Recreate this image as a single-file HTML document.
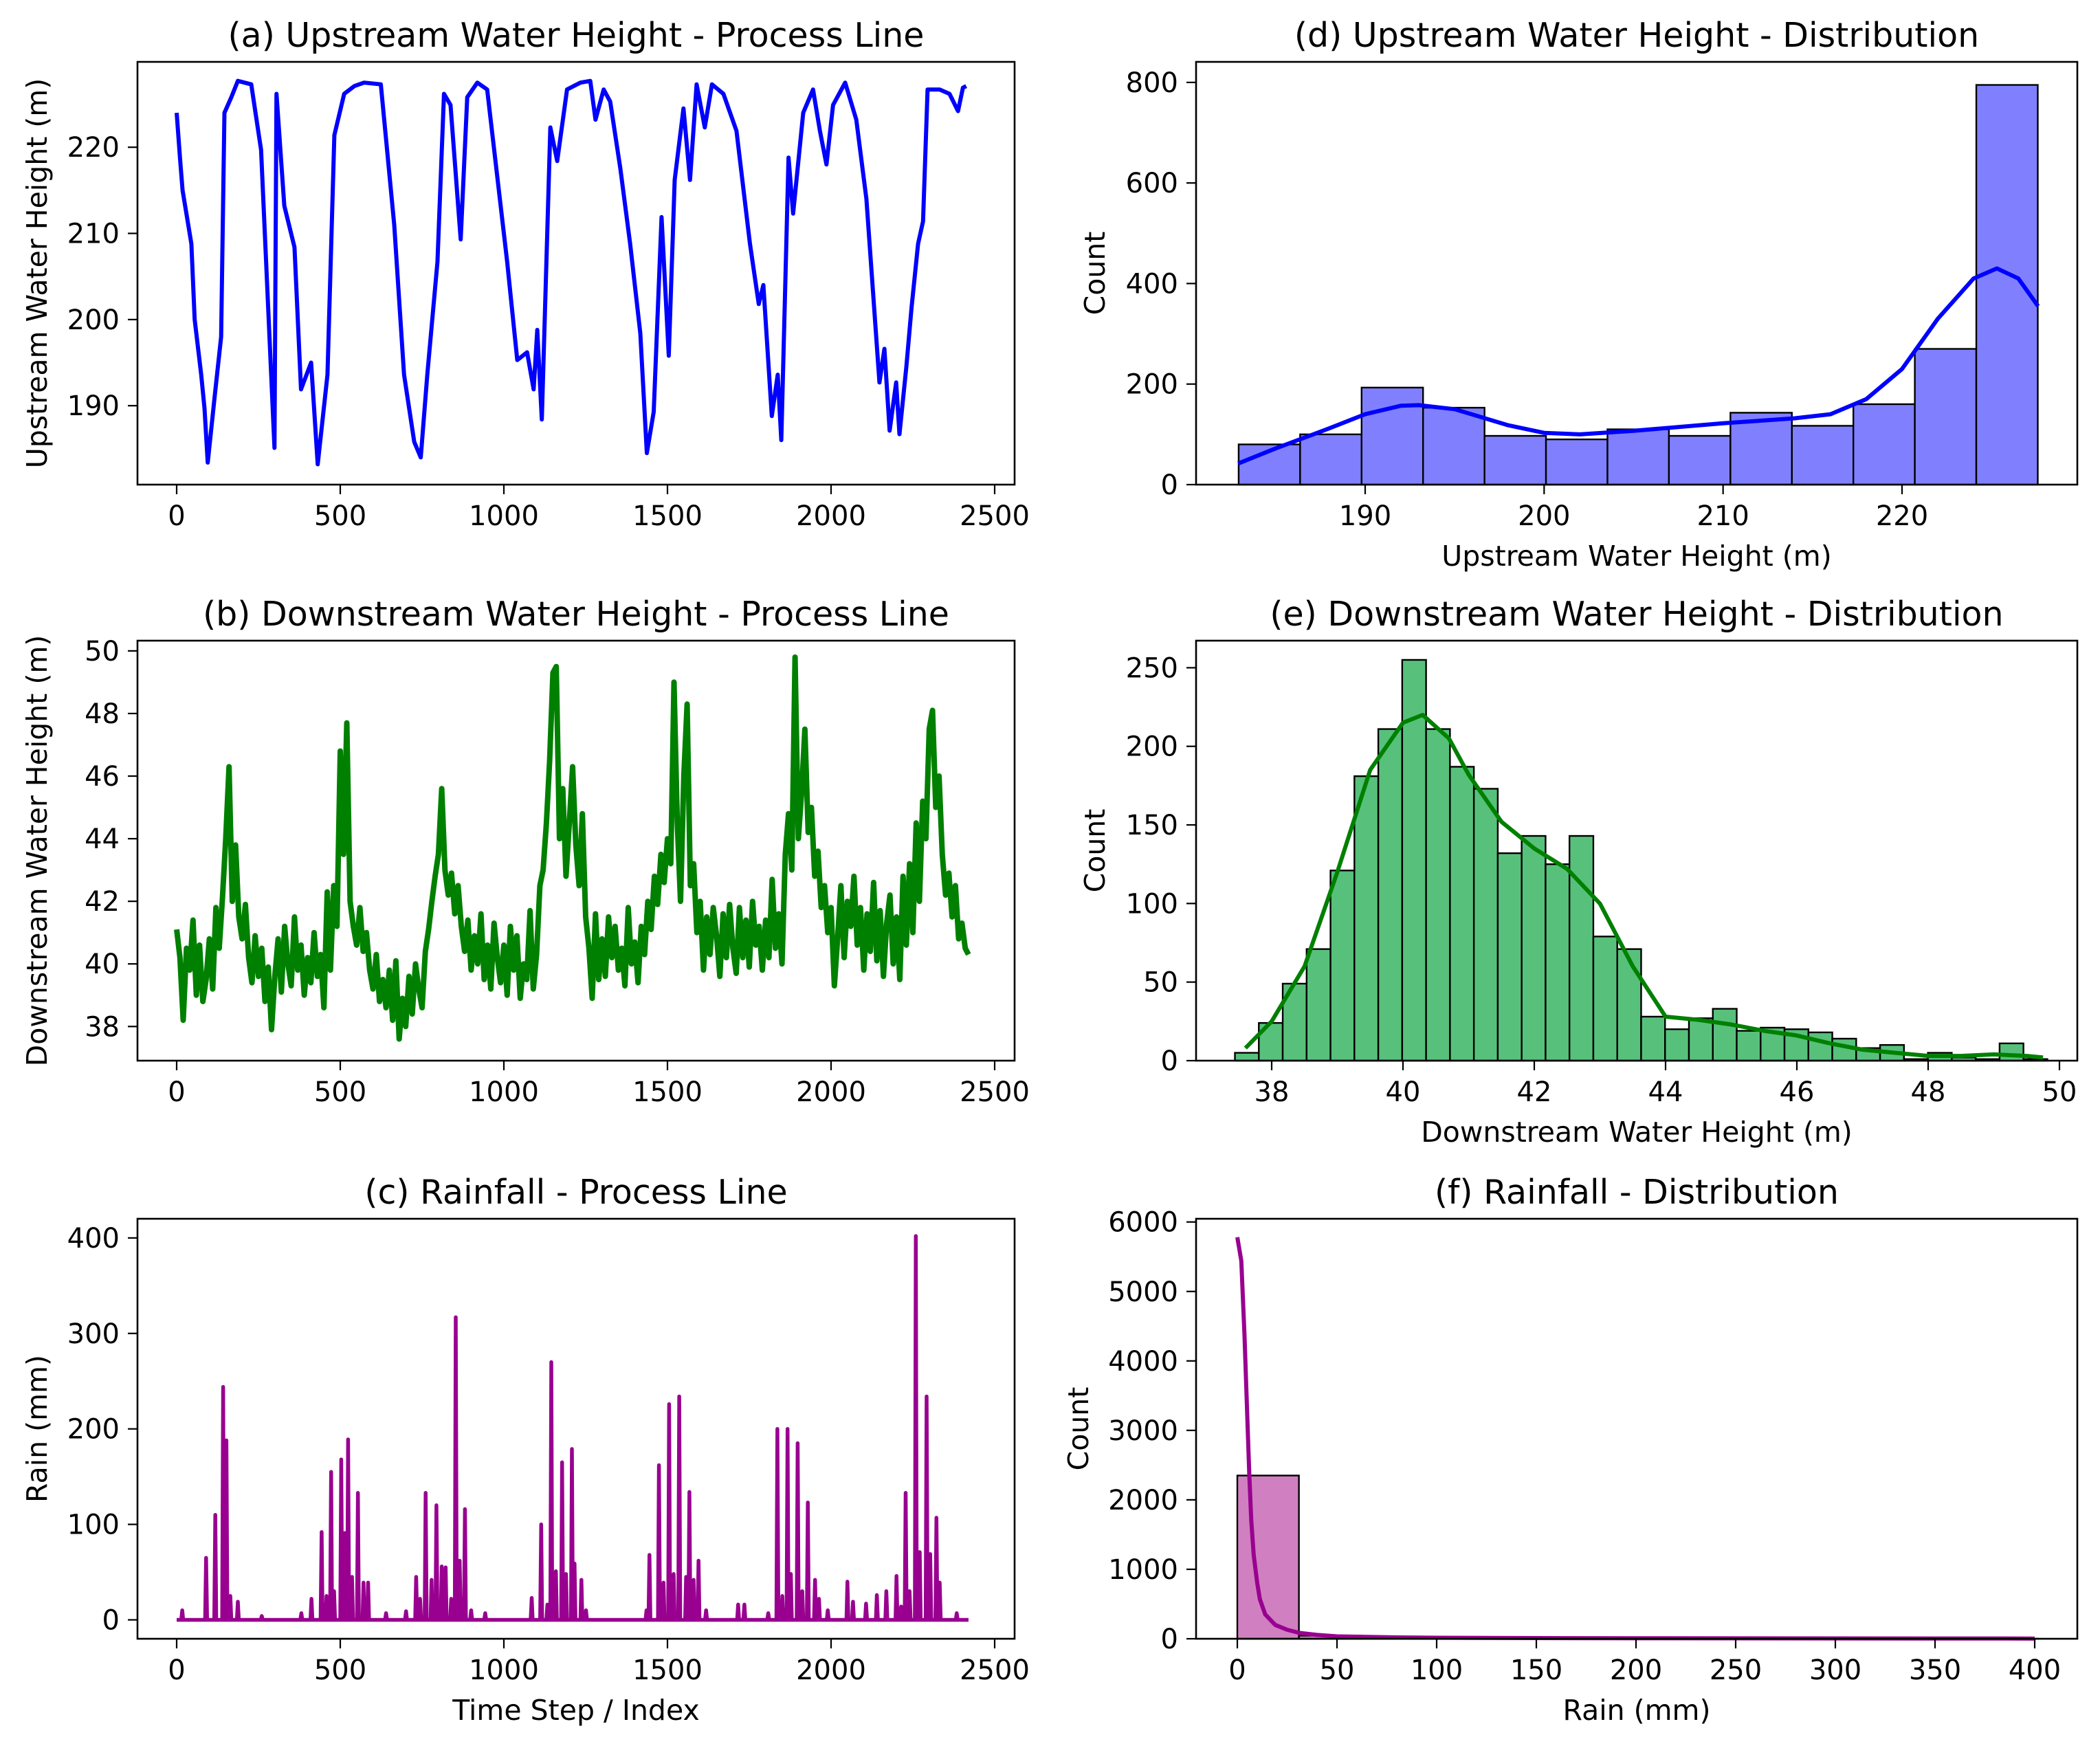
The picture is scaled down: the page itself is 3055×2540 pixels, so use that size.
<!DOCTYPE html>
<html><head><meta charset="utf-8"><style>
html,body{margin:0;padding:0;background:#fff;}
svg{display:block;font-family:"DejaVu Sans","Liberation Sans",sans-serif;}
</style></head><body>
<svg id="fig" xmlns="http://www.w3.org/2000/svg" width="3055" height="2540" viewBox="0 0 3055 2540">
<rect x="0" y="0" width="3055" height="2540" fill="#fff"/>
</svg>
<script>
// ---------- DATA ----------
const upT = [0,10,18,45,55,75,85,95,116,136,146,167,187,228,258,299,305,329,360,380,411,431,461,482,512,543,573,624,665,695,726,746,766,797,817,837,868,888,919,949,1010,1041,1071,1091,1102,1116,1142,1163,1193,1234,1264,1280,1305,1325,1356,1386,1417,1437,1458,1482,1504,1522,1549,1569,1589,1614,1636,1671,1711,1752,1779,1793,1819,1837,1848,1870,1884,1915,1945,1966,1986,2006,2043,2077,2108,2148,2163,2179,2199,2209,2230,2246,2266,2281,2295,2332,2362,2388,2403,2413];
const upV = [224,218.8,215,208.8,200,193.6,189.7,183.4,191,198,224,225.8,227.7,227.3,219.7,185.1,226.2,213.2,208.4,191.9,195,183.2,193.6,221.4,226.2,227.1,227.5,227.3,211,193.6,185.8,184,193.6,206.7,226.2,224.9,209.3,225.8,227.5,226.7,206.7,195.3,196.2,191.9,198.8,188.4,222.3,218.4,226.7,227.5,227.7,223.2,226.7,225.3,217.5,208.8,198.4,184.5,189.3,211.9,195.8,216.2,224.5,216.2,227.3,222.3,227.3,226.2,221.9,208.8,201.8,204,188.8,193.6,186,218.8,212.3,224,226.7,221.9,218,224.9,227.5,223.2,214,192.7,196.6,187.1,192.7,186.7,194.5,201.4,208.8,211.4,226.7,226.7,226.2,224.2,226.9,227.1];

const downStep = 10;
const downV = [41.1,40.2,38.2,40.5,39.8,41.4,39.0,40.6,38.8,39.5,
40.8,39.2,41.8,40.5,42.1,44.0,46.3,42.0,43.8,41.5,
40.8,41.9,40.2,39.4,40.9,39.6,40.5,38.8,39.9,37.9,
39.6,40.8,39.1,41.2,40.0,39.3,41.5,39.8,40.6,39.0,
40.2,39.4,41.0,39.6,40.3,38.6,42.3,39.8,42.5,41.2,
46.8,43.5,47.7,42.0,41.2,40.6,41.8,40.4,41.0,39.8,
39.2,40.3,38.8,39.5,38.6,39.8,38.2,40.1,37.6,38.9,
38.0,39.6,38.4,40.0,39.2,38.6,40.4,41.1,42.0,42.8,
43.5,45.6,43.0,42.2,42.9,41.6,42.5,41.2,40.4,41.4,
39.8,40.9,40.0,41.6,39.5,40.6,39.2,41.3,40.2,39.4,
40.6,39.0,41.2,39.8,40.9,38.9,40.0,39.5,41.7,39.2,
40.3,42.5,43.0,44.5,46.5,49.3,49.5,44.0,45.6,42.8,
44.5,46.3,43.8,42.5,44.8,41.5,40.5,38.9,41.6,39.5,
40.8,39.6,41.5,40.2,41.2,39.8,40.5,39.3,41.8,40.0,
40.7,39.4,41.2,40.3,42.0,41.1,42.8,41.9,43.5,42.6,
44.0,43.2,49.0,44.5,42.0,46.0,48.3,42.5,43.2,41.0,
42.0,39.8,41.5,40.3,41.8,40.9,39.6,41.6,40.2,41.9,
40.5,39.7,41.8,40.2,41.4,39.9,42.0,40.6,41.2,39.8,
41.4,40.2,42.7,40.5,41.6,40.0,43.5,44.8,43.0,49.8,
44.0,45.5,47.5,44.2,45.0,42.8,43.6,41.8,42.5,41.0,
41.8,39.3,40.8,42.5,40.2,42.0,41.2,42.8,40.6,41.8,
39.8,41.6,40.4,42.6,40.1,41.7,39.6,41.3,42.2,40.0,
41.5,39.5,42.8,40.6,43.2,41.0,44.5,42.0,45.2,44.0,
47.5,48.1,45.0,46.0,43.5,42.2,42.9,41.5,42.5,40.8,
41.3,40.5,40.3];

const rainT = [17,90,118,142,152,164,187,260,381,412,443,458,472,481,503,514,524,536,554,571,585,640,701,732,744,761,779,794,810,822,839,853,865,881,900,943,1085,1114,1133,1145,1159,1178,1190,1208,1216,1237,1251,1436,1445,1474,1488,1505,1519,1536,1557,1567,1580,1595,1618,1716,1735,1808,1836,1851,1867,1877,1898,1912,1929,1951,1963,1990,2050,2067,2107,2140,2169,2200,2214,2228,2240,2259,2271,2292,2303,2322,2332,2384];
const rainV = [10,65,110,244,188,25,19,4,7,22,92,25,155,30,168,91,189,45,133,39,39,7,9,45,22,133,42,120,56,55,22,317,62,116,10,7,23,100,16,270,51,165,48,179,59,42,10,10,68,162,39,226,48,234,45,134,42,62,10,16,16,7,200,25,200,48,185,30,123,42,22,10,40,19,17,26,30,46,14,133,30,402,71,234,69,107,39,7];
const rainEnd = 2420;

const upBinStart = 182.93, upBinWidth = 3.435;
const upCounts = [80,100,193,153,97,90,110,97,143,117,160,270,795];
const upKdeX = [182.9,185,188,190,192,193,195,198,200,202,205,210,214,216,218,220,222,224,225.3,226.5,227.6];
const upKdeY = [42,72,112,140,157,158,150,118,103,100,107,122,132,140,170,230,330,410,430,410,355];

const downBinStart = 37.44, downBinWidth = 0.364;
const downCounts = [5,24,49,71,121,181,211,255,211,187,173,132,143,125,143,79,71,28,20,27,33,19,21,20,18,14,8,10,1,5,2,1,11,1];
const downKdeX = [37.6,38,38.5,39,39.5,40,40.3,40.7,41,41.5,42,42.5,43,43.5,44,44.5,45,45.5,46,46.5,47,47.5,48,48.5,49,49.5,49.75];
const downKdeY = [8,25,60,120,185,215,220,205,182,152,135,122,100,60,28,26,23,19,16,11,7,5,3,3,4,3,2];

const rainBinStart = 0, rainBinWidth = 30.9;
const rainCounts = [2350,45,15,8,5,3,2,2,1,1,1,0,1];
const rainKdeX = [0,2,3.6,5,6,7,8.2,10,11.3,14,19,25,31,40,50,75,100,150,200,300,400];
const rainKdeY = [5780,5440,4380,3200,2370,1700,1210,800,570,350,200,130,85,55,35,22,15,10,8,5,3];

const timeTicks = [0,500,1000,1500,2000,2500];
const upTicks = [190,200,210,220];
const downTicks = [38,40,42,44,46,48,50];
const rainTicks = [0,100,200,300,400];
const upCountTicks = [0,200,400,600,800];
const downCountTicks = [0,50,100,150,200,250];
const rainCountTicks = [0,1000,2000,3000,4000,5000,6000];
const upHistTicks = [190,200,210,220];
const downHistTicks = [38,40,42,44,46,48,50];
const rainHistTicks = [0,50,100,150,200,250,300,350,400];

// ---------- DRAWING ----------
const NS = 'http://www.w3.org/2000/svg';
const svg = document.getElementById('fig');
function mk(tag, attrs, parent){
  const e = document.createElementNS(NS, tag);
  for (const k in attrs) e.setAttribute(k, attrs[k]);
  (parent||svg).appendChild(e);
  return e;
}
function lin(d0,d1,p0,p1){ return v => p0 + (v-d0)*(p1-p0)/(d1-d0); }

function panel(cfg){
  const g = mk('g', {});
  
  
  const X = lin(cfg.xd0, cfg.xd1, cfg.xp0, cfg.xp1);
  const Y = lin(cfg.yd0, cfg.yd1, cfg.yp0, cfg.yp1);
  const t = mk('text', {x:(cfg.L+cfg.R)/2, y:cfg.T-22, 'font-size':49, 'text-anchor':'middle', fill:'#000'}, g);
  t.textContent = cfg.title;
  
  
  const plot = mk('g', {}, g);
  
  
  cfg.draw(plot, X, Y);
  const fr = mk('rect', {x:cfg.L, y:cfg.T, width:cfg.R-cfg.L, height:cfg.B-cfg.T, fill:'none', stroke:'#000', 'stroke-width':2.6}, g);
  
  
  const xa = mk('g', {}, g);
  
  
  cfg.xticks.forEach(v => {
    const px = X(v);
    const tk = mk('line', {x1:px, x2:px, y1:cfg.B, y2:cfg.B+14, stroke:'#000', 'stroke-width':2.2}, xa);
    
    
    const lb = mk('text', {x:px, y:cfg.B+59, 'font-size':40, 'text-anchor':'middle', fill:'#000'}, xa);
    lb.textContent = String(v);
    
    
  });
  const ya = mk('g', {}, g);
  
  
  cfg.yticks.forEach(v => {
    const py = Y(v);
    const tk = mk('line', {x1:cfg.L-14, x2:cfg.L, y1:py, y2:py, stroke:'#000', 'stroke-width':2.2}, ya);
    
    
    const lb = mk('text', {x:cfg.L-26, y:py+14, 'font-size':40, 'text-anchor':'end', fill:'#000'}, ya);
    lb.textContent = String(v);
    
    
  });
  if (cfg.ylabel){
    const cy = (cfg.T+cfg.B)/2;
    const yl = mk('text', {x:cfg.ylx, y:cy, 'font-size':41, 'text-anchor':'middle', fill:'#000', transform:'rotate(-90 '+cfg.ylx+' '+cy+')'}, g);
    yl.textContent = cfg.ylabel;
    
    
  }
  if (cfg.xlabel){
    const xl = mk('text', {x:(cfg.L+cfg.R)/2, y:cfg.B+118, 'font-size':41, 'text-anchor':'middle', fill:'#000'}, g);
    xl.textContent = cfg.xlabel;
    
    
  }
}

function linePath(xs, ys, X, Y){
  let d = '';
  for (let i=0;i<xs.length;i++) d += (i?'L':'M') + X(xs[i]).toFixed(1) + ',' + Y(ys[i]).toFixed(1);
  return d;
}
function hist(plot, X, Y, start, w, counts, fill, nm){
  counts.forEach((c,i) => {
    const x0 = X(start + i*w), x1 = X(start + (i+1)*w);
    const r = mk('rect', {x:x0, y:Y(c), width:x1-x0, height:Y(0)-Y(c), fill:fill, stroke:'#000', 'stroke-width':2.4}, plot);
    
    
  });
}

const LL = 200, LR = 1476, RL = 1740, RR = 3022;
const rows = [{T:90,B:705},{T:932,B:1543},{T:1773,B:2384}];
const TX0 = 257, TX500 = 495;

panel({name:'upstream-line-chart', title:'(a) Upstream Water Height - Process Line', L:LL, R:LR, T:rows[0].T, B:rows[0].B,
  xd0:0, xd1:500, xp0:TX0, xp1:TX500, yd0:190, yd1:220, yp0:590.2, yp1:214.2,
  xticks:timeTicks, yticks:upTicks, ylabel:'Upstream Water Height (m)', ylx:68,
  draw:(p,X,Y)=>{
    const l = mk('path', {d:linePath(upT, upV, X, Y), fill:'none', stroke:'#0000ff', 'stroke-width':6, 'stroke-linejoin':'round'}, p);
    
    
  }});

panel({name:'downstream-line-chart', title:'(b) Downstream Water Height - Process Line', L:LL, R:LR, T:rows[1].T, B:rows[1].B,
  xd0:0, xd1:500, xp0:TX0, xp1:TX500, yd0:38, yd1:50, yp0:1493.3, yp1:946.9,
  xticks:timeTicks, yticks:downTicks, ylabel:'Downstream Water Height (m)', ylx:68,
  draw:(p,X,Y)=>{
    const ts = downV.map((v,i)=>i*downStep);
    const l = mk('path', {d:linePath(ts, downV, X, Y), fill:'none', stroke:'#008000', 'stroke-width':8, 'stroke-linejoin':'round'}, p);
    
    
  }});

panel({name:'rainfall-line-chart', title:'(c) Rainfall - Process Line', L:LL, R:LR, T:rows[2].T, B:rows[2].B,
  xd0:0, xd1:500, xp0:TX0, xp1:TX500, yd0:0, yd1:400, yp0:2356.5, yp1:1800.9,
  xticks:timeTicks, yticks:rainTicks, ylabel:'Rain (mm)', ylx:68, xlabel:'Time Step / Index',
  draw:(p,X,Y)=>{
    let d = 'M' + X(0) + ',' + Y(0) + 'L' + X(rainEnd) + ',' + Y(0);
    rainT.forEach((t,i)=>{ d += 'M' + X(t-3).toFixed(1) + ',' + Y(0).toFixed(1) + 'L' + X(t).toFixed(1) + ',' + Y(rainV[i]).toFixed(1) + 'L' + X(t+3).toFixed(1) + ',' + Y(0).toFixed(1); });
    const l = mk('path', {d:d, fill:'none', stroke:'#990090', 'stroke-width':5.5, 'stroke-linejoin':'round'}, p);
    
    
  }});

panel({name:'upstream-histogram', title:'(d) Upstream Water Height - Distribution', L:RL, R:RR, T:rows[0].T, B:rows[0].B,
  xd0:190, xd1:220, xp0:1986, xp1:2767, yd0:0, yd1:800, yp0:705, yp1:119.9,
  xticks:upHistTicks, yticks:upCountTicks, ylabel:'Count', ylx:1607, xlabel:'Upstream Water Height (m)',
  draw:(p,X,Y)=>{
    hist(p,X,Y,upBinStart,upBinWidth,upCounts,'#8080ff','upstream');
    const k = mk('path', {d:linePath(upKdeX, upKdeY, X, Y), fill:'none', stroke:'#0000ff', 'stroke-width':6, 'stroke-linejoin':'round'}, p);
    
    
  }});

panel({name:'downstream-histogram', title:'(e) Downstream Water Height - Distribution', L:RL, R:RR, T:rows[1].T, B:rows[1].B,
  xd0:38, xd1:50, xp0:1850, xp1:2996, yd0:0, yd1:250, yp0:1543, yp1:971.4,
  xticks:downHistTicks, yticks:downCountTicks, ylabel:'Count', ylx:1607, xlabel:'Downstream Water Height (m)',
  draw:(p,X,Y)=>{
    hist(p,X,Y,downBinStart,downBinWidth,downCounts,'#57c17b','downstream');
    const k = mk('path', {d:linePath(downKdeX, downKdeY, X, Y), fill:'none', stroke:'#008000', 'stroke-width':6, 'stroke-linejoin':'round'}, p);
    
    
  }});

panel({name:'rainfall-histogram', title:'(f) Rainfall - Distribution', L:RL, R:RR, T:rows[2].T, B:rows[2].B,
  xd0:0, xd1:400, xp0:1800, xp1:2960, yd0:0, yd1:6000, yp0:2384, yp1:1777.7,
  xticks:rainHistTicks, yticks:rainCountTicks, ylabel:'Count', ylx:1583, xlabel:'Rain (mm)',
  draw:(p,X,Y)=>{
    hist(p,X,Y,rainBinStart,rainBinWidth,rainCounts,'#d080c0','rainfall');
    const k = mk('path', {d:linePath(rainKdeX, rainKdeY, X, Y), fill:'none', stroke:'#990090', 'stroke-width':6, 'stroke-linejoin':'round'}, p);
    
    
  }});
</script>
</body></html>
